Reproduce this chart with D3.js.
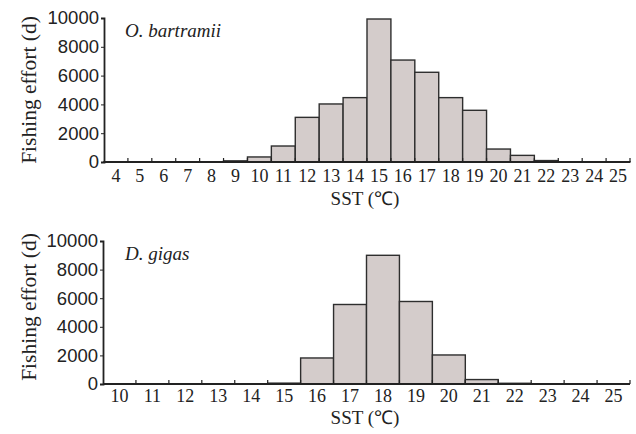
<html>
<head>
  <meta charset="utf8">
  <style>
    * { margin: 0; padding: 0; }
    body { background: #fff; }
  </style>
</head>
<body>
  <script src="https://cdn.jsdelivr.net/npm/d3@7"></script>
  <script>
    var w = 636
    var h = 434

    // O. bartramii
    var sstTop = [4, 5, 6, 7, 8, 9, 10, 11, 12, 13, 14, 15, 16, 17, 18, 19, 20, 21, 22, 23, 24, 25]
    var effortTop = [20, 20, 20, 20, 20, 80, 350, 1110, 3100, 4030, 4470, 9930, 7080, 6230, 4470, 3590, 900, 460, 100, 20, 20, 20]

    // D. gigas
    var sstBottom = [10, 11, 12, 13, 14, 15, 16, 17, 18, 19, 20, 21, 22, 23, 24, 25]
    var effortBottom = [0, 0, 0, 0, 0, 60, 1820, 5560, 9000, 5770, 2030, 310, 50, 0, 0, 0]

    var yTicks = [0, 2000, 4000, 6000, 8000, 10000]

    var svg = d3.select('body').append('svg').attr('width', w).attr('height', h)
      .style('font-family', '"Liberation Serif", "Times New Roman", serif')

    function panel(cats, vals, species, box) {
      var g = svg.append('g')
      var xScale = d3.scaleBand().domain(cats).range([box.x0, box.x1]).padding(0)
      var yScale = d3.scaleLinear().domain([0, 10000]).range([box.base, box.top])

      g.selectAll('rect')
        .data(vals)
        .enter()
        .append('rect')
        .attr('x', (d, i) => xScale(cats[i]))
        .attr('y', d => yScale(d))
        .attr('width', xScale.bandwidth())
        .attr('height', d => yScale(0) - yScale(d))
        .attr('fill', '#d4cccb')
        .attr('stroke', '#2e2e2e')
        .attr('stroke-width', 1.4)

      // y axis
      var yAxis = g.append('g')
        .attr('transform', 'translate(' + box.x0 + ',0)')
        .call(d3.axisLeft(yScale).tickValues(yTicks).tickSize(3).tickPadding(2).tickFormat(d3.format('d')))
      yAxis.selectAll('text').attr('font-size', '18.5px').attr('fill', '#222')

      // x axis: ticks at bin edges, pointing up
      var xa = g.append('g')
      xa.append('line')
        .attr('x1', box.x0).attr('x2', box.x1)
        .attr('y1', box.base).attr('y2', box.base)
        .attr('stroke', '#222').attr('stroke-width', 1.8)
      xa.selectAll('line.tk')
        .data(cats)
        .enter()
        .append('line')
        .attr('class', 'tk')
        .attr('x1', d => xScale(d) + xScale.bandwidth())
        .attr('x2', d => xScale(d) + xScale.bandwidth())
        .attr('y1', box.base).attr('y2', box.base - 4)
        .attr('stroke', '#222').attr('stroke-width', 1.2)
      xa.selectAll('text')
        .data(cats)
        .enter()
        .append('text')
        .text(d => d)
        .attr('x', d => xScale(d) + xScale.bandwidth() / 2)
        .attr('y', box.base + box.tickDy)
        .attr('text-anchor', 'middle')
        .attr('font-size', '18px')
        .attr('fill', '#222')

      g.selectAll('.domain').attr('stroke', '#222').attr('stroke-width', 1.8)
      g.selectAll('.tick line').attr('stroke', '#222')

      g.append('text')
        .text('SST (℃)')
        .attr('x', 365)
        .attr('y', box.base + box.titleDy)
        .attr('text-anchor', 'middle')
        .attr('font-size', '19px')
        .attr('fill', '#222')

      g.append('text')
        .text('Fishing effort (d)')
        .attr('transform', 'translate(36,' + box.labelY + ') rotate(-90)')
        .attr('text-anchor', 'middle')
        .attr('font-size', '21.5px')
        .attr('fill', '#222')

      g.append('text')
        .text(species)
        .attr('x', 125)
        .attr('y', box.top + 19)
        .attr('font-style', 'italic')
        .attr('font-size', '19px')
        .attr('fill', '#222')
    }

    panel(sstTop, effortTop, 'O. bartramii', { x0: 104, x1: 630, top: 18, base: 162, tickDy: 20, titleDy: 43, labelY: 90 })
    panel(sstBottom, effortBottom, 'D. gigas', { x0: 103, x1: 630, top: 241, base: 384, tickDy: 18, titleDy: 40, labelY: 307 })
  </script>
</body>
</html>
